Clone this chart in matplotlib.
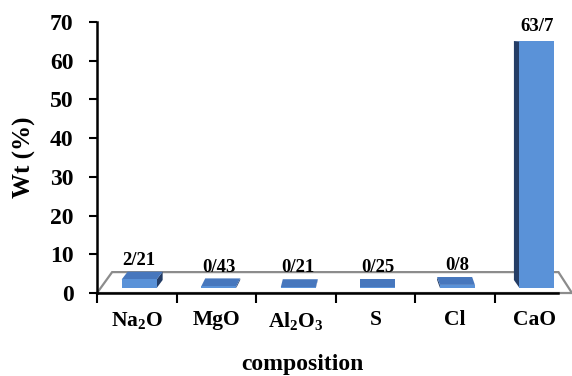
import matplotlib
matplotlib.use("Agg")
import matplotlib.pyplot as plt
from matplotlib.patches import Polygon

# data
categories = ["Na$_2$O", "MgO", "Al$_2$O$_3$", "S", "Cl", "CaO"]
values = [2.21, 0.43, 0.21, 0.25, 0.8, 63.7]
yticks = [0, 10, 20, 30, 40, 50, 60, 70]

plt.rcParams["font.family"] = "Liberation Serif"
plt.rcParams["font.weight"] = "bold"
plt.rcParams["mathtext.fontset"] = "custom"
plt.rcParams["mathtext.rm"] = "Liberation Serif:bold"
plt.rcParams["mathtext.it"] = "Liberation Serif:bold"
plt.rcParams["mathtext.bf"] = "Liberation Serif:bold"

front_c = "#5a92d8"
top_c = "#4777bd"
side_c = "#243d66"

fig = plt.figure(figsize=(5.72, 3.76), dpi=100)
ax = fig.add_axes([0.1696, 0.2207, 0.8304, 0.7207])
ax.set_xlim(-0.5, 5.47)
ax.set_ylim(0, 70)

# floor of the fake 3d box
floor = Polygon([(-0.5, 0), (-0.31, 5.4), (5.3, 5.4), (5.47, 0)],
                closed=True, facecolor="white", edgecolor="#8c8c8c",
                lw=1.6, zorder=1, clip_on=False)
ax.add_patch(floor)

b0 = 1.3      # bars sit in the middle of the floor depth
w = 0.44
H = 68.0


def depth(y):
    # how far the back of the bar is shifted up (fake perspective)
    return 2.1 * max(0.0, 1 - y / H)


for i, v in enumerate(values):
    x = i + 0.03
    top = b0 + v
    dx = 0.025 * (3 - i) if i < 3 else 0.035 * (3 - i)
    # side face
    xs = x - w / 2 if dx < 0 else x + w / 2
    side = Polygon([(xs, b0), (xs, top), (xs + dx, top + depth(top)),
                    (xs + dx, b0 + depth(b0))], closed=True,
                   facecolor=side_c, edgecolor="none", zorder=2)
    ax.add_patch(side)
    # top face
    tp = Polygon([(x - w / 2, top), (x + w / 2, top),
                  (x + w / 2 + dx, top + depth(top)),
                  (x - w / 2 + dx, top + depth(top))], closed=True,
                 facecolor=top_c, edgecolor="none", zorder=3)
    ax.add_patch(tp)
    ax.bar(x, v, width=w, bottom=b0, color=front_c, zorder=3)
    ax.annotate(f"{v}".replace(".", "/"), (x, top + depth(top)),
                xytext=(0, 4 if v > 10 else 2), textcoords="offset points",
                ha="center", va="bottom", fontsize=13.5, fontweight="bold")

for s in ["top", "right"]:
    ax.spines[s].set_visible(False)
ax.spines["left"].set_linewidth(1.8)
ax.spines["bottom"].set_linewidth(1.8)
ax.spines["bottom"].set_bounds(-0.5, 5.3)
ax.spines["left"].set_zorder(5)
ax.spines["bottom"].set_zorder(5)

ax.set_yticks(yticks)
ax.tick_params(axis="y", direction="out", length=6, width=1.5, pad=11,
               labelsize=17)
ax.set_xticks([i - 0.5 for i in range(len(categories))])
ax.set_xticklabels([])
ax.set_xticks(range(len(categories)), minor=True)
ax.set_xticklabels(categories, minor=True, fontsize=15.5, fontweight="bold")
ax.tick_params(axis="x", which="major", direction="out", length=7, width=1.5)
ax.tick_params(axis="x", which="minor", length=0, pad=12)
for lab in ax.get_yticklabels():
    lab.set_fontweight("bold")

fig.text(0.042, 0.582, "Wt (%)", rotation=90, ha="center", va="center",
         fontsize=18, fontweight="bold")
fig.text(0.529, 0.03, "composition", ha="center", va="center",
         fontsize=17, fontweight="bold")

fig.savefig("out.png", dpi=100)
